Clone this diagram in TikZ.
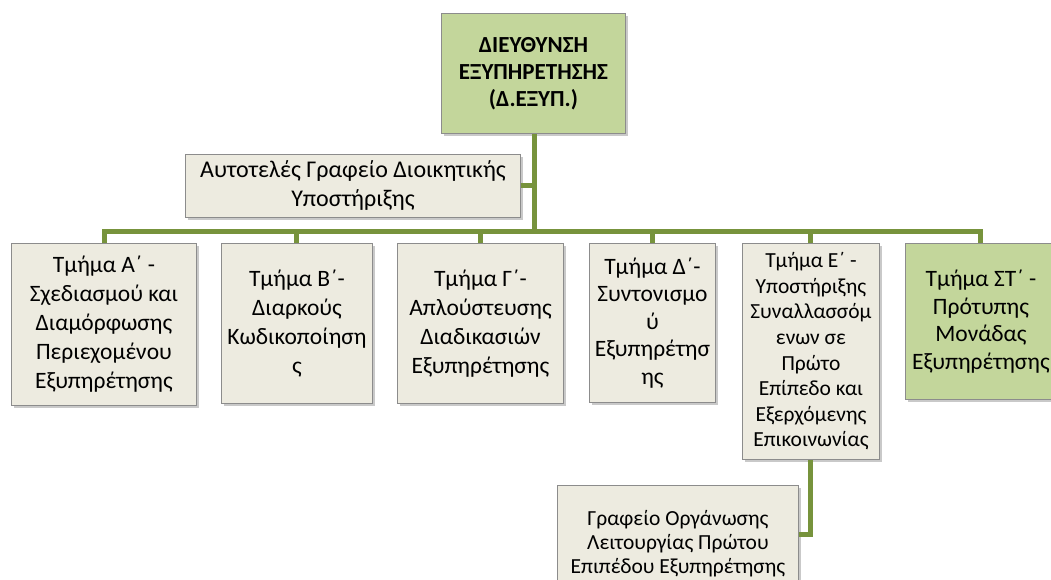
\documentclass[tikz,border=0pt]{standalone}
\usepackage{fontspec}
\setmainfont{Carlito}
\usetikzlibrary{shadows}
\definecolor{beigefill}{HTML}{EDEBE0}
\definecolor{greenfill}{HTML}{C3D69B}
\definecolor{linkgreen}{HTML}{77933C}
\definecolor{boxborder}{HTML}{8C8C8C}
\tikzset{
  unit/.style={draw=boxborder, line width=0.9pt, anchor=north west, align=center,
    inner sep=2pt, font=\fontsize{23.5}{29}\selectfont,
    drop shadow={shadow xshift=2.5pt, shadow yshift=-3pt, opacity=0.35, fill=black!60}},
  beigebox/.style={unit, fill=beigefill},
  greenbox/.style={unit, fill=greenfill},
  link/.style={draw=linkgreen, line width=5pt}
}
\begin{document}
\begin{tikzpicture}[x=1pt, y=-1pt]
\useasboundingbox (0,0) rectangle (1051,579);
\clip (0,0) rectangle (1051,579);
\fill[white] (0,0) rectangle (1051,579);

\coordinate (bus) at (534.5,231);
\coordinate (busL) at (104.5,231);
\coordinate (busR) at (980.5,231);

\node[greenbox, minimum width=184pt, minimum height=120pt, font=\bfseries\fontsize{23}{27}\selectfont] (top) at (441,13)
  {ΔΙΕΥΘΥΝΣΗ\\ΕΞΥΠΗΡΕΤΗΣΗΣ\\(Δ.ΕΞΥΠ.)};

\node[beigebox, minimum width=335pt, minimum height=63pt, font=\fontsize{24}{29}\selectfont] (side) at (185,154)
  {Αυτοτελές Γραφείο Διοικητικής\\Υποστήριξης};

\node[beigebox, minimum width=185pt, minimum height=162pt] (a) at (11,243)
  {Τμήμα Α΄ -\\Σχεδιασμού και\\Διαμόρφωσης\\Περιεχομένου\\Εξυπηρέτησης};
\node[beigebox, minimum width=151pt, minimum height=160pt] (b) at (221,243)
  {Τμήμα Β΄-\\Διαρκούς\\Κωδικοποίηση\\ς};
\node[beigebox, minimum width=166pt, minimum height=160pt] (c) at (397,243)
  {Τμήμα Γ΄-\\Απλούστευσης\\Διαδικασιών\\Εξυπηρέτησης};
\node[beigebox, minimum width=126pt, minimum height=159pt, font=\fontsize{23.5}{27.5}\selectfont] (d) at (589,243)
  {Τμήμα Δ΄-\\Συντονισμο\\ύ\\Εξυπηρέτησ\\ης};
\node[beigebox, minimum width=137pt, minimum height=216pt, font=\fontsize{21.5}{25.6}\selectfont] (e) at (742,243)
  {Τμήμα Ε΄ -\\Υποστήριξης\\Συναλλασσόμ\\ενων σε\\Πρώτο\\Επίπεδο και\\Εξερχόμενης\\Επικοινωνίας};
\node[greenbox, minimum width=151pt, minimum height=156pt, font=\fontsize{23.5}{27.5}\selectfont] (f) at (905,243)
  {Τμήμα ΣΤ΄ -\\Πρότυπης\\Μονάδας\\Εξυπηρέτησης};

\node[beigebox, minimum width=241pt, minimum height=112pt, font=\fontsize{21.5}{24}\selectfont, text depth=0pt] (g) at (557,485)
  {Γραφείο Οργάνωσης\\Λειτουργίας Πρώτου\\Επιπέδου Εξυπηρέτησης};

% connectors
\draw[link] (top.south -| bus) -- (bus);
\draw[link] (bus |- side.east) -- (side.east);
\draw[link, line cap=rect] (busL) -- (busR);
\draw[link] (busL) -- (busL |- a.north);
\draw[link] (b.north |- bus) -- (b.north);
\draw[link] (c.north |- bus) -- (c.north);
\draw[link] (d.north |- bus) -- (d.north);
\draw[link] (e.north |- bus) -- (e.north);
\draw[link] (busR) -- (busR |- f.north);
\coordinate (eknee) at (e.south |- 0,534);
\draw[link, line join=miter] (e.south) -- (eknee) -- (g.east |- eknee);
\end{tikzpicture}
\end{document}
